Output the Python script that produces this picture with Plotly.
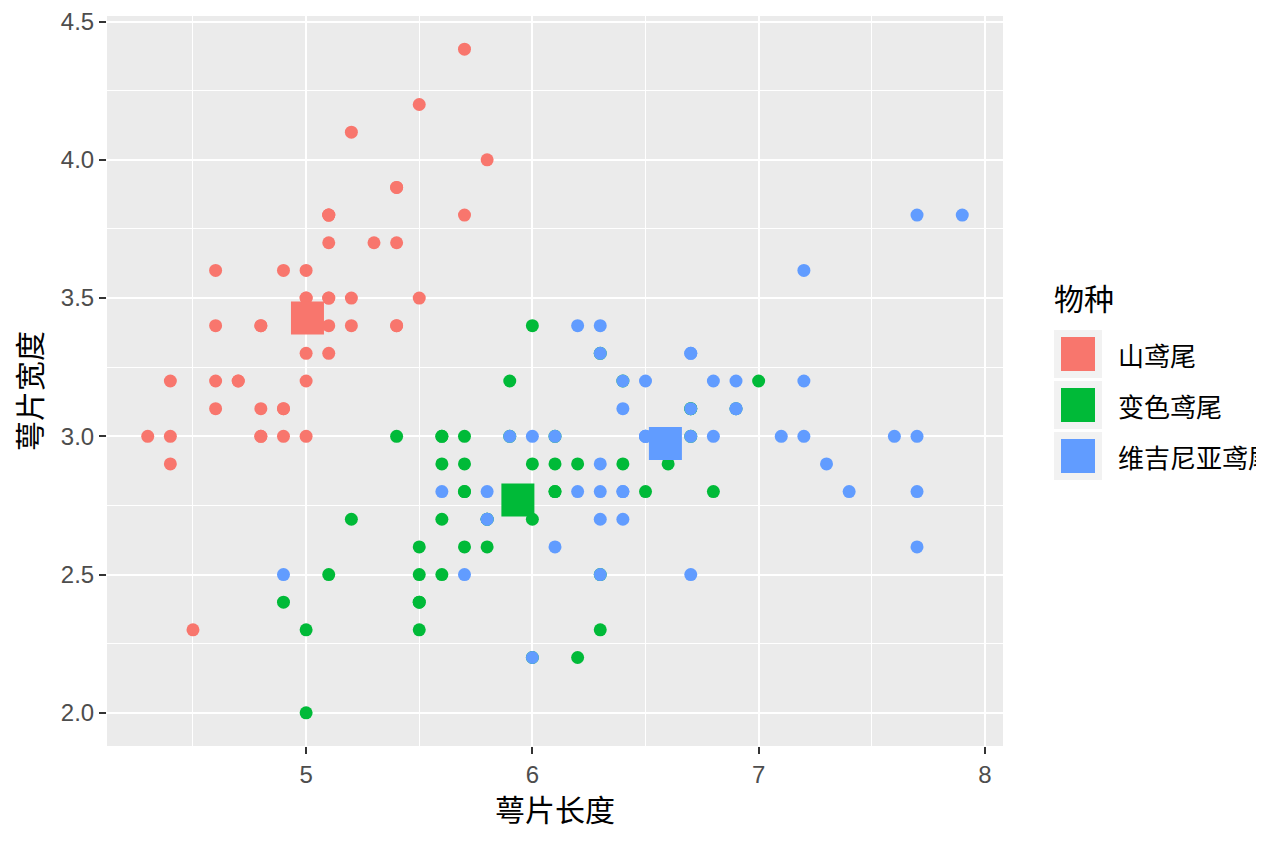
import numpy as np
import plotly.graph_objects as go

# ---- iris sepal measurements, one pair of lists per species
species = ["山鸢尾", "变色鸢尾", "维吉尼亚鸢尾"]
colors = ["#F8766D", "#00BA38", "#619CFF"]

setosa_len = [5.1, 4.9, 4.7, 4.6, 5.0, 5.4, 4.6, 5.0, 4.4, 4.9, 5.4, 4.8, 4.8, 4.3, 5.8, 5.7, 5.4,
              5.1, 5.7, 5.1, 5.4, 5.1, 4.6, 5.1, 4.8, 5.0, 5.0, 5.2, 5.2, 4.7, 4.8, 5.4, 5.2, 5.5,
              4.9, 5.0, 5.5, 4.9, 4.4, 5.1, 5.0, 4.5, 4.4, 5.0, 5.1, 4.8, 5.1, 4.6, 5.3, 5.0]
setosa_wid = [3.5, 3.0, 3.2, 3.1, 3.6, 3.9, 3.4, 3.4, 2.9, 3.1, 3.7, 3.4, 3.0, 3.0, 4.0, 4.4, 3.9,
              3.5, 3.8, 3.8, 3.4, 3.7, 3.6, 3.3, 3.4, 3.0, 3.4, 3.5, 3.4, 3.2, 3.1, 3.4, 4.1, 4.2,
              3.1, 3.2, 3.5, 3.6, 3.0, 3.4, 3.5, 2.3, 3.2, 3.5, 3.8, 3.0, 3.8, 3.2, 3.7, 3.3]

versicolor_len = [7.0, 6.4, 6.9, 5.5, 6.5, 5.7, 6.3, 4.9, 6.6, 5.2, 5.0, 5.9, 6.0, 6.1, 5.6, 6.7, 5.6,
                  5.8, 6.2, 5.6, 5.9, 6.1, 6.3, 6.1, 6.4, 6.6, 6.8, 6.7, 6.0, 5.7, 5.5, 5.5, 5.8, 6.0,
                  5.4, 6.0, 6.7, 6.3, 5.6, 5.5, 5.5, 6.1, 5.8, 5.0, 5.6, 5.7, 5.7, 6.2, 5.1, 5.7]
versicolor_wid = [3.2, 3.2, 3.1, 2.3, 2.8, 2.8, 3.3, 2.4, 2.9, 2.7, 2.0, 3.0, 2.2, 2.9, 2.9, 3.1, 3.0,
                  2.7, 2.2, 2.5, 3.2, 2.8, 2.5, 2.8, 2.9, 3.0, 2.8, 3.0, 2.9, 2.6, 2.4, 2.4, 2.7, 2.7,
                  3.0, 3.4, 3.1, 2.3, 3.0, 2.5, 2.6, 3.0, 2.6, 2.3, 2.7, 3.0, 2.9, 2.9, 2.5, 2.8]

virginica_len = [6.3, 5.8, 7.1, 6.3, 6.5, 7.6, 4.9, 7.3, 6.7, 7.2, 6.5, 6.4, 6.8, 5.7, 5.8, 6.4, 6.5,
                 7.7, 7.7, 6.0, 6.9, 5.6, 7.7, 6.3, 6.7, 7.2, 6.2, 6.1, 6.4, 7.2, 7.4, 7.9, 6.4, 6.3,
                 6.1, 7.7, 6.3, 6.4, 6.0, 6.9, 6.7, 6.9, 5.8, 6.8, 6.7, 6.7, 6.3, 6.5, 6.2, 5.9]
virginica_wid = [3.3, 2.7, 3.0, 2.9, 3.0, 3.0, 2.5, 2.9, 2.5, 3.6, 3.2, 2.7, 3.0, 2.5, 2.8, 3.2, 3.0,
                 3.8, 2.6, 2.2, 3.2, 2.8, 2.8, 2.7, 3.3, 3.2, 2.8, 3.0, 2.8, 3.0, 2.8, 3.8, 2.8, 2.8,
                 2.6, 3.0, 3.4, 3.1, 3.0, 3.1, 3.1, 3.1, 2.7, 3.2, 3.3, 3.0, 2.5, 3.0, 3.4, 3.0]

x_ticks = [5, 6, 7, 8]
y_ticks = [2.0, 2.5, 3.0, 3.5, 4.0, 4.5]
y_tick_text = ["2.0", "2.5", "3.0", "3.5", "4.0", "4.5"]

lengths = [setosa_len, versicolor_len, virginica_len]
widths = [setosa_wid, versicolor_wid, virginica_wid]

FONT = "Liberation Sans, Noto Sans CJK SC, sans-serif"
CJK = "Noto Sans CJK SC, sans-serif"

# ---- figure geometry; the page body has an 8px margin, so the figure is 8px smaller
OFF = 8
W, H = 1264 - OFF, 843 - OFF
ML, MR, MT, MB = 107 - OFF, 261, 16 - OFF, 97
PW, PH = W - ML - MR, H - MT - MB


# page pixel -> paper coordinate (for the hand-built legend and titles)
def px_x(px):
    return (px - OFF - ML) / PW


def px_y(py):
    return (H - MB - (py - OFF)) / PH


fig = go.Figure()

# points
for name, col, xs, ys in zip(species, colors, lengths, widths):
    fig.add_trace(go.Scatter(
        x=xs, y=ys, mode="markers", name=name,
        marker=dict(color=col, size=13, line=dict(width=0)),
        showlegend=False,
    ))

# species centroids as big squares
for name, col, xs, ys in zip(species, colors, lengths, widths):
    fig.add_trace(go.Scatter(
        x=[np.mean(xs)], y=[np.mean(ys)], mode="markers", name=name + " 中心",
        marker=dict(color=col, size=33, symbol="square", line=dict(width=0)),
        showlegend=False,
    ))

# ---- axis titles as annotations (standoff is ignored without automargin)
annotations = [
    dict(text="萼片长度", xref="paper", yref="paper", x=0.5, y=px_y(808),
         xanchor="center", yanchor="middle", showarrow=False,
         font=dict(family=CJK, size=30, color="black")),
    dict(text="萼片宽度", xref="paper", yref="paper", x=px_x(28), y=px_y(391),
         xanchor="center", yanchor="middle", showarrow=False, textangle=-90,
         font=dict(family=CJK, size=30, color="black")),
]

# ---- legend (drawn by hand to get the grey key boxes)
shapes = []
annotations.append(dict(
    text="物种", xref="paper", yref="paper", x=px_x(1052), y=px_y(297),
    xanchor="left", yanchor="middle", showarrow=False,
    font=dict(family=CJK, size=30, color="black"),
))
for i, (name, col) in enumerate(zip(species, colors)):
    top = 330 + i * 51
    shapes.append(dict(
        type="rect", xref="paper", yref="paper", layer="above",
        x0=px_x(1054), x1=px_x(1102), y0=px_y(top), y1=px_y(top + 48),
        fillcolor="#F2F2F2", line=dict(width=0),
    ))
    shapes.append(dict(
        type="rect", xref="paper", yref="paper", layer="above",
        x0=px_x(1061), x1=px_x(1095), y0=px_y(top + 7), y1=px_y(top + 41),
        fillcolor=col, line=dict(width=0),
    ))
    annotations.append(dict(
        text=name, xref="paper", yref="paper", x=px_x(1116), y=px_y(top + 24),
        xanchor="left", yanchor="middle", showarrow=False,
        font=dict(family=CJK, size=26, color="black"),
    ))

fig.update_layout(
    width=W, height=H,
    margin=dict(l=ML, r=MR, t=MT, b=MB, autoexpand=False),
    paper_bgcolor="white",
    plot_bgcolor="#EBEBEB",
    font=dict(family=FONT),
    shapes=shapes,
    annotations=annotations,
)

fig.update_xaxes(
    range=[4.12, 8.08],
    tickvals=x_ticks,
    ticks="outside", ticklen=7, tickwidth=2, tickcolor="#333333",
    tickfont=dict(family=FONT, size=24, color="#4D4D4D"),
    ticklabeloverflow="allow",
    showgrid=True, gridcolor="white", gridwidth=2.2,
    minor=dict(dtick=0.5, tick0=4.5, showgrid=True, gridcolor="white", gridwidth=1.1, ticks=""),
    zeroline=False, showline=False, automargin=False,
)
fig.update_yaxes(
    range=[1.88, 4.52],
    tickvals=y_ticks, ticktext=y_tick_text,
    ticks="outside", ticklen=7, tickwidth=2, tickcolor="#333333",
    tickfont=dict(family=FONT, size=24, color="#4D4D4D"),
    ticklabeloverflow="allow",
    showgrid=True, gridcolor="white", gridwidth=2.2,
    minor=dict(dtick=0.5, tick0=2.25, showgrid=True, gridcolor="white", gridwidth=1.1, ticks=""),
    zeroline=False, showline=False, automargin=False,
)

fig.write_html("out.html")
